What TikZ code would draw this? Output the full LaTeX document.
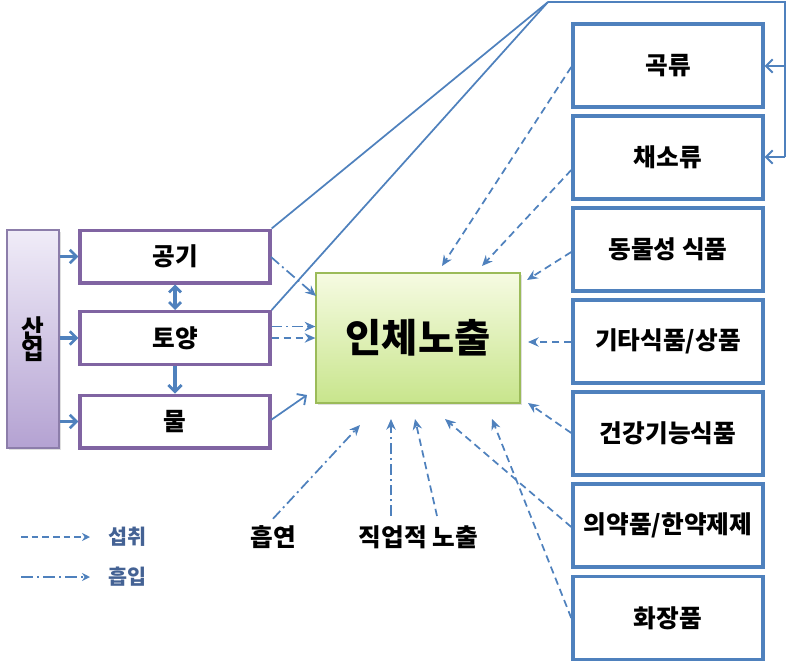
\documentclass[tikz,border=0pt]{standalone}
\usepackage{fontspec}
\setmainfont{Noto Sans CJK KR}
\usetikzlibrary{arrows.meta,calc,shadows}
\definecolor{lnblue}{RGB}{79,129,189}
\definecolor{boxblue}{RGB}{79,129,189}
\definecolor{purp}{RGB}{128,100,162}
\definecolor{legtxt}{RGB}{68,98,148}
\definecolor{grnb}{RGB}{155,187,89}
\begin{document}
\begin{tikzpicture}[x=0.75pt,y=-0.75pt,
  lbl/.style={font=\fontsize{18.5}{20}\selectfont\bfseries},
  pbox/.style={draw=purp,line width=2.5pt,fill=white,minimum width=142.5pt,minimum height=39.5pt,inner sep=0pt,lbl},
  bbox/.style={draw=boxblue,line width=2.6pt,fill=white,minimum width=142.5pt,minimum height=62.25pt,inner sep=0pt,lbl},
  conn/.style={draw=lnblue,line width=1.3pt},
  thick conn/.style={draw=lnblue,line width=2.4pt},
  barb/.style={-{Straight Barb[length=5pt,width=10pt,line width=2pt]}},
  dbarb/.style={{Straight Barb[length=4.5pt,width=9pt,line width=2pt]}-{Straight Barb[length=4.5pt,width=9pt,line width=2pt]}},
  ingest/.style={conn,dash pattern=on 5.5pt off 3.5pt,-{Stealth[length=8pt,width=7pt]}},
  inhale/.style={conn,dash pattern=on 8pt off 3pt on 1.5pt off 3pt,-{Stealth[length=8pt,width=7pt]}},
  openarr/.style={-{Straight Barb[length=5pt,width=10pt,line width=1.4pt]}}
]
\useasboundingbox (0,0) rectangle (788,663);

% left column
\node[draw={rgb,255:red,140;green,125;blue,170},line width=0.9pt,top color={rgb,255:red,240;green,236;blue,248},bottom color={rgb,255:red,180;green,162;blue,210},
  minimum width=39pt,minimum height=163.5pt,inner sep=0pt,drop shadow={opacity=0.25,shadow xshift=1.5pt,shadow yshift=-1.5pt},
  lbl,align=center] (san) at (33,339) {산\\[-3pt]업};
\node[pbox] (gong) at (175,256.5) {공기};
\node[pbox] (toy) at (175,338) {토양};
\node[pbox] (mul) at (175,421.5) {물};

% central box
\node[draw=grnb,line width=0.9pt,top color={rgb,255:red,246;green,251;blue,226},bottom color={rgb,255:red,200;green,229;blue,140},
  minimum width=153pt,minimum height=97.5pt,inner sep=0pt,drop shadow={opacity=0.25,shadow xshift=1.5pt,shadow yshift=-1.5pt},
  font=\fontsize{29.5}{32}\selectfont\bfseries] (body) at (418,338) {인체노출};

% right column
\node[bbox] (gok) at (668,65.5) {곡류};
\node[bbox] (chae) at (668,157.5) {채소류};
\node[bbox] (dong) at (668,249.5) {동물성 식품};
\node[bbox] (gita) at (668,341.5) {기타식품/상품};
\node[bbox] (gun) at (668,433.5) {건강기능식품};
\node[bbox] (uiyak) at (668,525.5) {의약품/한약제제};
\node[bbox] (hwa) at (668,618) {화장품};

% labels
\node[lbl] (smoke) at (273,537) {흡연};
\node[lbl] (occ) at (418.5,537) {직업적 노출};

% industry arrows
\draw[thick conn,barb] (san.east |- gong.west) -- (gong.west);
\draw[thick conn,barb] (san.east |- toy.west) -- (toy.west);
\draw[thick conn,barb] (san.east |- mul.west) -- (mul.west);
\draw[thick conn,dbarb] (gong.south) -- (toy.north);
\draw[thick conn,barb] (toy.south) -- (mul.north);

% solid lines to food
\coordinate (apex) at (548,2);
\coordinate (rt) at (785,2);
\coordinate (r1) at (785,66);
\coordinate (r2) at (785,157);
\draw[conn] (gong.north east) -- (apex);
\draw[conn] (toy.north east) -- (apex);
\draw[conn] (apex) -- (rt) -- (r2);
\draw[conn,openarr] (r1) -- (gok.east |- r1);
\draw[conn,openarr] (r2) -- (chae.east |- r2);

% environment to body
\coordinate (gongE) at (271,257);
\coordinate (t1) at (316,296);
\draw[inhale] (gongE) -- (t1);
\draw[inhale] ($(toy.east)+(0,-11.5)$) -- (body.west |- {$(toy.east)+(0,-11.5)$});
\draw[ingest] (toy.east) -- (body.west |- toy.east);
\coordinate (mulE) at (271,420);
\coordinate (t2) at (307,395);
\draw[conn,-{Straight Barb[length=5pt,width=10pt,line width=1.4pt]}] (mulE) -- (t2);

% food to body
\coordinate (e1) at (442,266);
\coordinate (e2) at (482,266);
\coordinate (e3) at (527,280);
\coordinate (e4) at (528,342);
\coordinate (e5) at (528,403);
\coordinate (e6) at (445,419);
\coordinate (e7) at (492,419);
\draw[ingest] (gok.west |- 0,67) -- (e1);
\draw[ingest] (chae.west |- 0,170) -- (e2);
\draw[ingest] (dong.west |- 0,252) -- (e3);
\draw[ingest] (gita.west |- 0,342) -- (e4);
\draw[ingest] (gun.west |- 0,433) -- (e5);
\draw[ingest] (uiyak.west |- 0,527) -- (e6);
\draw[ingest] (hwa.west |- 0,618) -- (e7);

% smoking and occupation
\coordinate (e8) at (360,425);
\coordinate (e9) at (391,419);
\coordinate (e10) at (415,419);
\draw[inhale] (smoke.north) ++(0,-2) -- (e8);
\draw[inhale] (391,516) -- (e9);
\draw[ingest] (437,516) -- (e10);

% legend
\coordinate (l1a) at (21,537);
\coordinate (l1b) at (90,537);
\coordinate (l2a) at (21,577);
\coordinate (l2b) at (90,577);
\draw[conn,dash pattern=on 5pt off 3pt,-{Stealth[length=6pt,width=6pt]}] (l1a) -- (l1b);
\draw[conn,dash pattern=on 9pt off 3pt on 1.5pt off 3pt,-{Stealth[length=6pt,width=6pt]}] (l2a) -- (l2b);
\node[font=\fontsize{15.5}{17}\selectfont\bfseries,text=legtxt,anchor=west] (leg1) at (104,537) {섭취};
\node[font=\fontsize{15.5}{17}\selectfont\bfseries,text=legtxt,anchor=west] (leg2) at (104,577) {흡입};
\end{tikzpicture}
\end{document}
